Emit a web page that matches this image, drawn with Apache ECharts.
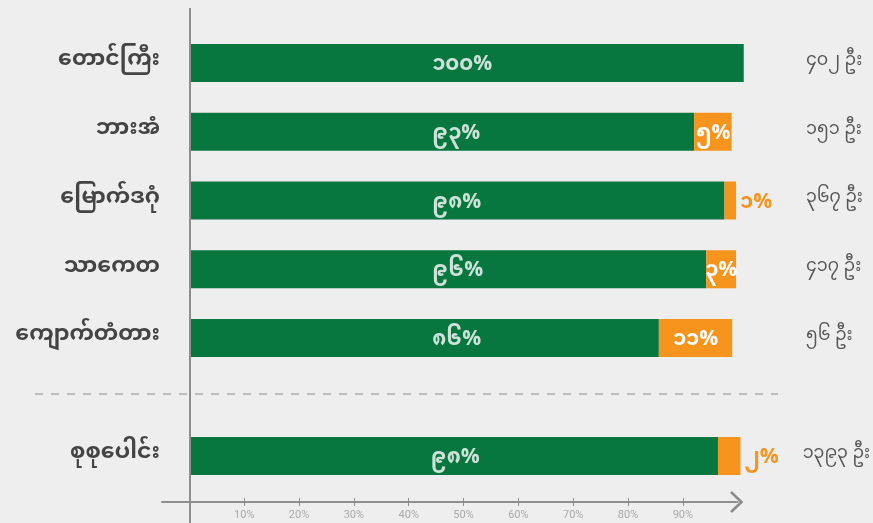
<!DOCTYPE html>
<html>
<head>
<meta charset="utf-8">
<script src="https://cdn.jsdelivr.net/npm/echarts@6/dist/echarts.min.js"></script>
<style>
html,body{margin:0;padding:0;background:#eeeeee;}
#c{width:873px;height:523px;}
</style>
</head>
<body>
<div id="c"></div>
<script>
// ---- data ----
const regions = ['တောင်ကြီး', 'ဘားအံ', 'မြောက်ဒဂုံ', 'သာကေတ', 'ကျောက်တံတား'];
const regionCounts = ['၄၀၂ ဦး', '၁၅၁ ဦး', '၃၆၇ ဦး', '၄၁၇ ဦး', '၅၆ ဦး'];
const regionGreen = [100.5, 91.5, 97.0, 93.7, 85.1];
const regionOrange = [0, 6.8, 2.1, 5.4, 13.3];
const regionGreenLabels = ['၁၀၀%', '၉၃%', '၉၈%', '၉၆%', '၈၆%'];
const regionOrangeLabels = ['', '၅%', '၁%', '၃%', '၁၁%'];

const totalName = ['စုစုပေါင်း'];
const totalCount = ['၁၃၉၃ ဦး'];
const totalGreen = [96.4];
const totalOrange = [4.1];
const totalGreenLabels = ['၉၈%'];
const totalOrangeLabels = ['၂%'];

const xTickValues = [10, 20, 30, 40, 50, 60, 70, 80, 90];

// ---- style ----
const GREEN = '#08763f';
const ORANGE = '#f7941e';
const AXIS = '#8e8e8e';
const FONT = '"Noto Sans Myanmar","Padauk","Myanmar Text","Noto Sans",sans-serif';
const LABEL_ANCHOR = 44;        // x value where in-bar green labels start
const outsideOrange = { region: [2], total: [0] };

function orangeData(vals, labels, outside) {
  return vals.map((v, i) => {
    const out = outside.indexOf(i) >= 0;
    return {
      value: v,
      label: {
        show: labels[i] !== '',
        formatter: labels[i],
        position: out ? 'right' : 'inside',
        distance: 4,
        color: out ? ORANGE : '#ffffff'
      }
    };
  });
}

const chart = echarts.init(document.getElementById('c'), null, { renderer: 'canvas' });

const barLabelFont = { fontFamily: FONT, fontWeight: 'bold', fontSize: 21, offset: [0, 5] };

const xBase = { type: 'value', min: -5, max: 100, splitLine: { show: false } };

const option = {
  backgroundColor: '#eeeeee',
  animation: false,
  grid: [
    { left: 162, right: 132, top: 28.6, height: 343.75 },
    { left: 162, right: 132, top: 410, bottom: 21 }
  ],
  xAxis: [
    Object.assign({}, xBase, { gridIndex: 0, show: false }),
    Object.assign({}, xBase, {
      gridIndex: 1, position: 'bottom',
      axisLine: { show: true, lineStyle: { color: AXIS, width: 2 } },
      axisTick: { show: true, length: 4, lineStyle: { color: AXIS, width: 1 }, customValues: xTickValues },
      axisLabel: { show: true, customValues: xTickValues, formatter: '{value}%', color: '#aaaaaa', fontSize: 11, fontFamily: 'Roboto, sans-serif', margin: 8 }
    }),
    Object.assign({}, xBase, {
      gridIndex: 1, position: 'bottom',
      axisLine: { show: false },
      axisTick: { show: true, inside: true, length: 4, lineStyle: { color: AXIS, width: 1 }, customValues: xTickValues },
      axisLabel: { show: false }
    })
  ],
  yAxis: [
    { type: 'category', gridIndex: 0, data: regions, inverse: true,
      axisLine: { show: false, onZero: false }, axisTick: { show: false },
      axisLabel: { margin: 2, color: '#444444', fontSize: 22, fontWeight: 'bold', fontFamily: FONT } },
    { type: 'category', gridIndex: 0, data: regionCounts, inverse: true, position: 'right',
      axisLine: { show: false, onZero: false }, axisTick: { show: false },
      axisLabel: { margin: 65, align: 'left', color: '#555555', fontSize: 17.5, fontFamily: FONT } },
    { type: 'category', gridIndex: 1, data: totalName, inverse: true,
      axisLine: { show: false, onZero: false }, axisTick: { show: false },
      axisLabel: { margin: 2, color: '#444444', fontSize: 22, fontWeight: 'bold', fontFamily: FONT } },
    { type: 'category', gridIndex: 1, data: totalCount, inverse: true, position: 'right',
      axisLine: { show: false, onZero: false }, axisTick: { show: false },
      axisLabel: { margin: 65, align: 'left', color: '#555555', fontSize: 17.5, fontFamily: FONT } }
  ],
  series: [
    { type: 'bar', xAxisIndex: 0, yAxisIndex: 0, stack: 'r', data: regionGreen, barWidth: 38, clip: false,
      itemStyle: { color: GREEN }, label: { show: false } },
    { type: 'bar', xAxisIndex: 0, yAxisIndex: 0, stack: 'r', barWidth: 38, clip: false,
      data: orangeData(regionOrange, regionOrangeLabels, outsideOrange.region),
      itemStyle: { color: ORANGE }, label: barLabelFont },
    { type: 'bar', xAxisIndex: 1, yAxisIndex: 2, stack: 't', data: totalGreen, barWidth: 38, clip: false,
      itemStyle: { color: GREEN }, label: { show: false } },
    { type: 'bar', xAxisIndex: 1, yAxisIndex: 2, stack: 't', barWidth: 38, clip: false,
      data: orangeData(totalOrange, totalOrangeLabels, outsideOrange.total),
      itemStyle: { color: ORANGE }, label: barLabelFont },
    { type: 'scatter', xAxisIndex: 0, yAxisIndex: 0, symbolSize: 0, silent: true, z: 5, clip: false,
      data: regions.map((r, i) => ({ value: [LABEL_ANCHOR, r], label: { formatter: regionGreenLabels[i] } })),
      label: Object.assign({ show: true, position: 'right', distance: 0, color: '#ffffff' }, barLabelFont) },
    { type: 'scatter', xAxisIndex: 1, yAxisIndex: 2, symbolSize: 0, silent: true, z: 5, clip: false,
      data: totalName.map((r, i) => ({ value: [LABEL_ANCHOR, r], label: { formatter: totalGreenLabels[i] } })),
      label: Object.assign({ show: true, position: 'right', distance: 0, color: '#ffffff' }, barLabelFont) }
  ],
  graphic: {
    elements: [
      { type: 'line', id: 'vline', shape: { x1: 190, y1: 8, x2: 190, y2: 523 }, style: { stroke: AXIS, lineWidth: 2 }, z: 10 },
      { type: 'line', id: 'sep', shape: { x1: 35, y1: 394, x2: 778, y2: 394 }, style: { stroke: '#aaaaaa', lineWidth: 1.5, lineDash: [8, 8] }, z: 1 },
      { type: 'polyline', id: 'arrow', shape: { points: [[731, 492], [741.5, 502], [731, 512]] },
        style: { stroke: '#8a8a8a', lineWidth: 2.5, fill: 'none' }, z: 100 }
    ]
  }
};
chart.setOption(option);
</script>
</body>
</html>
